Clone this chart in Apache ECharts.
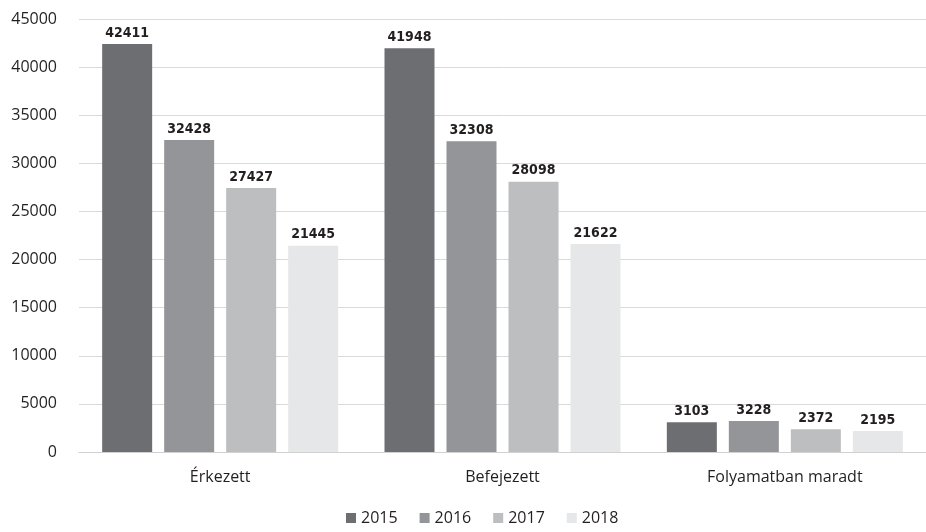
<!DOCTYPE html>
<html>
<head>
<meta charset="utf-8">
<script src="https://cdn.jsdelivr.net/npm/echarts@6/dist/echarts.min.js"></script>
<style>
  html, body { margin: 0; padding: 0; background: #fff; }
  #chart { width: 926px; height: 532px; }
</style>
</head>
<body>
<div id="chart"></div>
<script>
  // adatok
  var categories = ['Érkezett', 'Befejezett', 'Folyamatban maradt'];
  var years = ['2015', '2016', '2017', '2018'];
  var v2015 = [42411, 41948, 3103];
  var v2016 = [32428, 32308, 3228];
  var v2017 = [27427, 28098, 2372];
  var v2018 = [21445, 21622, 2195];
  var colors = ['#6d6e71', '#939598', '#bcbec0', '#e6e7e8'];

  var chart = echarts.init(document.getElementById('chart'));
  var font = '"Open Sans", "DejaVu Sans", sans-serif';

  function bar(name, data, color) {
    return {
      name: name,
      type: 'bar',
      data: data,
      barWidth: 50,
      barGap: '24%',
      itemStyle: { color: color },
      label: {
        show: true,
        position: 'top',
        distance: 4,
        color: '#231f20',
        fontWeight: 'bold',
        fontSize: 14,
        fontFamily: '"DejaVu Sans Condensed", sans-serif'
      }
    };
  }

  var option = {
    animation: false,
    grid: { left: 79, right: -3, top: 19, bottom: 80 },
    legend: {
      data: years,
      bottom: 1,
      left: 341,
      itemWidth: 10,
      itemHeight: 10,
      itemGap: 22,
      icon: 'rect',
      textStyle: { color: '#231f20', fontSize: 16, fontFamily: font }
    },
    xAxis: {
      type: 'category',
      data: categories,
      axisLine: { lineStyle: { color: '#d0d0d0' } },
      axisTick: { show: false },
      axisLabel: { color: '#231f20', fontSize: 16, margin: 17, fontFamily: font }
    },
    yAxis: {
      type: 'value',
      min: 0,
      max: 45000,
      interval: 5000,
      axisLine: { show: false },
      axisTick: { show: false },
      splitLine: { lineStyle: { color: '#d9d9d9' } },
      axisLabel: {
        color: '#231f20', fontSize: 16, margin: 22, fontFamily: font,
        formatter: function (v) { return String(v); }
      }
    },
    series: [
      bar(years[0], v2015, colors[0]),
      bar(years[1], v2016, colors[1]),
      bar(years[2], v2017, colors[2]),
      bar(years[3], v2018, colors[3])
    ]
  };
  chart.setOption(option);
</script>
</body>
</html>
